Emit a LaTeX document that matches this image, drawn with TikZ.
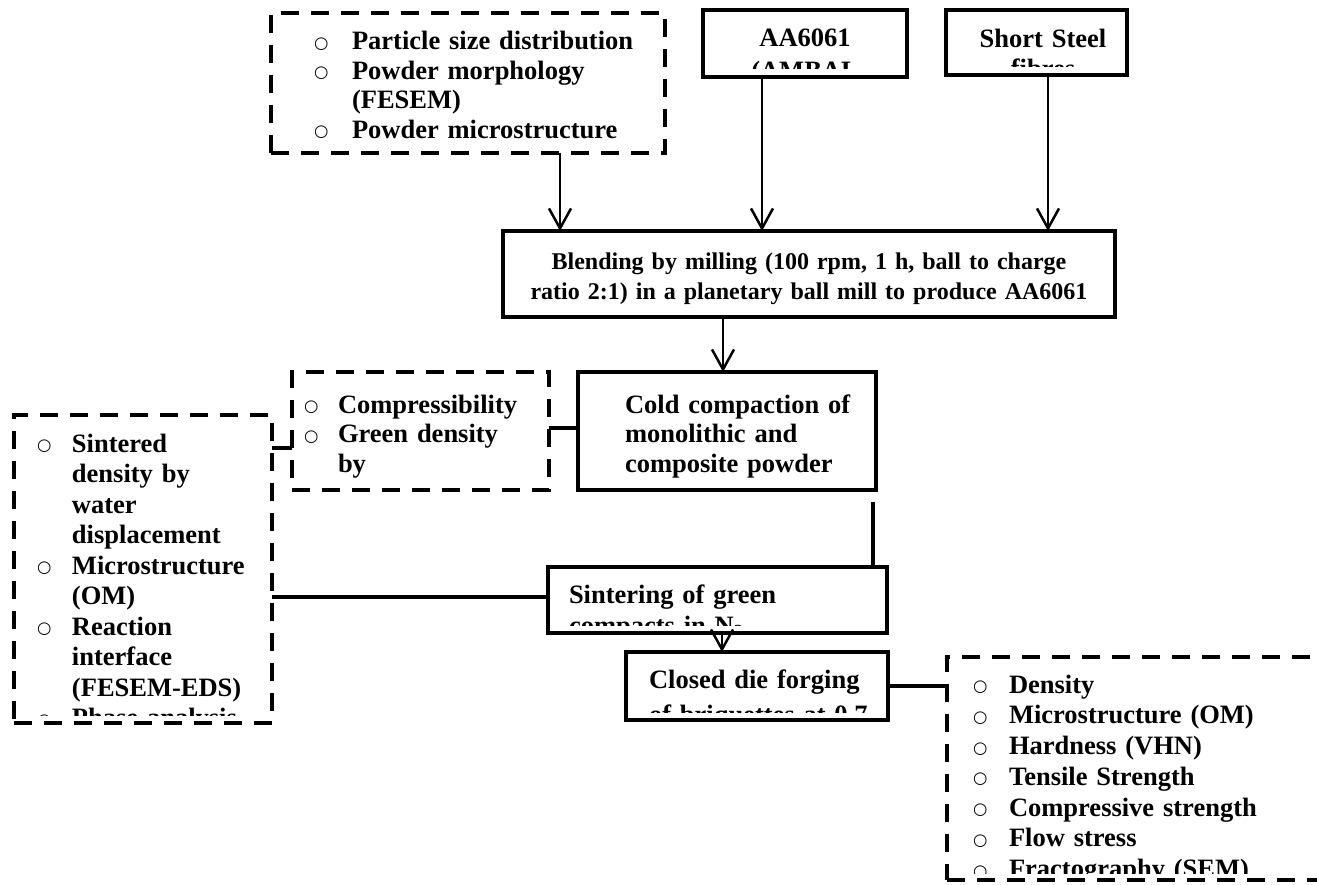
\documentclass[tikz,border=0pt]{standalone}
\usepackage{fontspec}
\setmainfont{Liberation Serif}
\newfontfamily\bulfont{DejaVu Sans}
\usetikzlibrary{arrows.meta}

% bulleted entries with a hanging indent of #1; \bfirst opens the list
\newcommand\bulletmark{\raisebox{1.5pt}{\bulfont\mdseries\fontsize{16.5}{16.5}\selectfont ○}}
\newcommand\bfirst[2]{\hangindent=#1\relax\hangafter=1\relax\noindent\makebox[#1][l]{\bulletmark}#2}
\newcommand\bitem[2]{\par\bfirst{#1}{#2}}
% clip to the text area of a box node (#2 = bottom margin)
\newcommand\clipinside[2]{\clip ([xshift=2pt,yshift=-2pt]#1.north west) rectangle ([xshift=-2pt,yshift=#2]#1.south east);}

\begin{document}
\begin{tikzpicture}[x=1pt,y=-1pt,
  solidbox/.style={draw, line width=4pt, inner sep=0pt, outer sep=0pt, anchor=north west},
  dashbox/.style={draw, line width=4pt, dash pattern=on 18pt off 12pt, inner sep=0pt, outer sep=0pt, anchor=north west},
  body/.style={inner sep=0pt, outer sep=0pt, anchor=base west, text width=#1},
  txt/.style={font=\fontsize{26.5}{#1}\selectfont\bfseries},
  arr/.style={line width=2.5pt, -{Straight Barb[length=20pt,width=22pt,line width=2.5pt]}},
  conn/.style={line width=3.5pt}]
\useasboundingbox (0,0) rectangle (1317,885);
\fill[white] (0,0) rectangle (1317,885);
\clip (0,0) rectangle (1317,885);

% ---- boxes ----
\node[dashbox, minimum width=394pt, minimum height=140pt] (part) at (271,13) {};
\node[solidbox, minimum width=204pt, minimum height=67pt] (aa) at (703,10) {};
\node[solidbox, minimum width=181pt, minimum height=65pt] (ssf) at (946,10) {};
\node[solidbox, minimum width=612pt, minimum height=86pt] (blend) at (503,231) {};
\node[dashbox, minimum width=257pt, minimum height=118pt] (comp) at (292,372) {};
\node[solidbox, minimum width=298pt, minimum height=118pt] (cold) at (578,372) {};
\node[dashbox, minimum width=258pt, minimum height=308pt] (sntd) at (14,415) {};
\node[solidbox, minimum width=339pt, minimum height=66pt] (sint) at (548,567) {};
\node[solidbox, minimum width=262pt, minimum height=68pt] (forge) at (626,652) {};
\node[dashbox, minimum width=400pt, minimum height=223pt] (test) at (947,657) {};

% ---- texts, each kept inside its box ----
\begin{scope}\clipinside{part}{8pt}
\node[body=380pt, txt=29.5] (parttext) at (314,50)
  {\bfirst{38pt}{Particle size distribution}\bitem{38pt}{Powder morphology\newline(FESEM)}\bitem{38pt}{Powder microstructure}\par};
\end{scope}

\begin{scope}\clipinside{aa}{8pt}
\node[body=200pt, txt=32.5, align=center, anchor=base] (aatext) at (805,47) {AA6061\\(AMBAL};
\end{scope}

\begin{scope}\clipinside{ssf}{8pt}
\node[body=180pt, txt=30, align=center, anchor=base] (ssftext) at (1043,48) {Short Steel\\fibres};
\end{scope}

\begin{scope}\clipinside{blend}{8pt}
\node[body=600pt, font=\fontsize{24}{30}\selectfont\bfseries, align=center, anchor=base] (blendtext) at (809,270)
  {Blending by milling (100 rpm, 1 h, ball to charge\\ratio 2:1) in a planetary ball mill to produce AA6061\\and composite powders};
\end{scope}

\begin{scope}\clipinside{comp}{8pt}
\node[body=250pt, txt=29.5] (comptext) at (304,413)
  {\bfirst{34pt}{Compressibility}\bitem{34pt}{Green density\newline by}\par};
\end{scope}

\begin{scope}\clipinside{cold}{8pt}
\node[body=260pt, txt=29.5, align=left] (coldtext) at (625,413)
  {Cold compaction of\\monolithic and\\composite powder};
\end{scope}

\begin{scope}\clipinside{sntd}{8pt}
\node[body=240pt, txt=30.5] (sntdtext) at (37,452)
  {\bfirst{35pt}{Sintered\newline density by\newline water\newline displacement}\bitem{35pt}{Microstructure\newline (OM)}\bitem{35pt}{Reaction\newline interface\newline (FESEM-EDS)}\bitem{35pt}{Phase analysis}\par};
\end{scope}

\begin{scope}\clipinside{sint}{8pt}
\node[body=320pt, txt=31, align=left] (sinttext) at (569,603)
  {Sintering of green\\compacts in N\textsubscript{2}};
\end{scope}

\begin{scope}\clipinside{forge}{8pt}
\node[body=250pt, txt=35, align=left] (forgetext) at (649,688)
  {Closed die forging\\of briquettes at 0.7};
\end{scope}

\begin{scope}\clipinside{test}{7pt}
\node[body=360pt, txt=30.75] (testtext) at (973,693)
  {\bfirst{36pt}{Density}\bitem{36pt}{Microstructure (OM)}\bitem{36pt}{Hardness (VHN)}\bitem{36pt}{Tensile Strength}\bitem{36pt}{Compressive strength}\bitem{36pt}{Flow stress}\bitem{36pt}{Fractography (SEM)}\par};
\end{scope}

% ---- connectors ----
\draw[arr] (part.south -| 560,0) -- (blend.north -| 560,0);
\draw[arr] (aa.south -| 762,0) -- (blend.north -| 762,0);
\draw[arr] (ssf.south -| 1048,0) -- (blend.north -| 1048,0);
\draw[arr] (blend.south -| 723,0) -- (cold.north -| 723,0);
\draw[conn] (cold.west |- 0,428) -- (comp.east |- 0,428);
\draw[conn] (comp.west |- 0,448) -- (sntd.east |- 0,448);
\coordinate (coldstub) at (873,502);
\draw[conn] (coldstub) -- (sint.north -| coldstub);
\draw[conn] (sntd.east |- 0,597) -- (sint.west |- 0,597);
\draw[arr] (sint.south -| 722,0) -- (forge.north -| 722,0);
\draw[conn] (forge.east |- 0,686) -- (test.west |- 0,686);
\end{tikzpicture}
\end{document}
